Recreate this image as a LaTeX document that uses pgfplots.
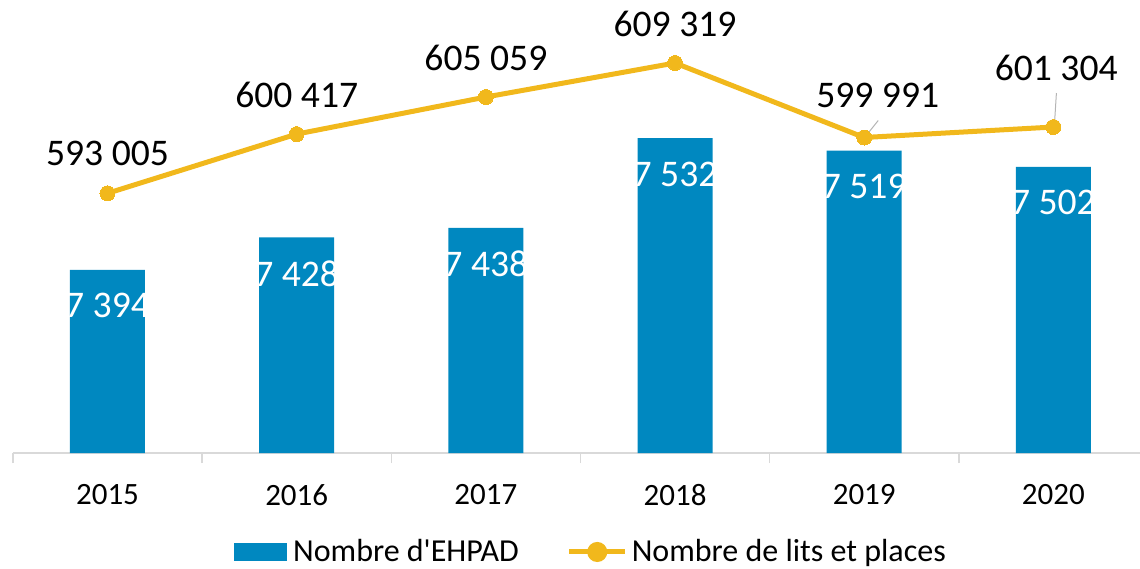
\documentclass[border=0pt]{standalone}
\usepackage{fontspec}
\setmainfont{Carlito}
\newfontfamily\plainfont{Carlito}
\usepackage{pgfplots}
\pgfplotsset{compat=1.18}
\definecolor{barblue}{RGB}{0,136,192}
\definecolor{gold}{RGB}{241,184,28}
\definecolor{axgray}{RGB}{217,217,217}
\definecolor{leadgray}{RGB}{180,180,180}
\newcommand{\lblfont}{\fontsize{18.8pt}{22pt}\selectfont}
\begin{document}
\begin{tikzpicture}
\useasboundingbox (0,0) rectangle (570pt,284pt);
\begin{axis}[
  at={(6.45pt,57.5pt)}, anchor=south west,
  width=567.55pt, height=226.5pt, scale only axis,
  xmin=-0.5, xmax=5.5, ymin=7202, ymax=7676.8,
  axis y line=none, axis x line*=bottom,
  x axis line style={axgray, line width=0.75pt, -},
  xtick={0,1,2,3,4,5}, xticklabels={2015,2016,2017,2018,2019,2020},
  major tick length=0pt,
  extra x ticks={-0.5,0.5,1.5,2.5,3.5,4.5,5.5}, extra x tick labels={},
  extra x tick style={major tick length=5pt, tick align=outside, tick style={axgray, line width=0.75pt}},
  xticklabel style={font=\fontsize{15.5pt}{18pt}\selectfont, anchor=center, yshift=-21pt},
  ybar, bar width=37.5pt,
  clip=false,
  nodes near coords, point meta=explicit symbolic,
  every node near coord/.append style={font=\lblfont, text=white, anchor=center, yshift=-18pt},
]
\addplot[fill=barblue, draw=none, bar shift=0pt] coordinates {
  (0,7394) [7 394]
  (1,7428) [7 428]
  (2,7438) [7 438]
  (3,7532) [7 532]
  (4,7519) [7 519]
  (5,7502) [7 502]
};
\end{axis}
\begin{axis}[
  at={(6.45pt,57.5pt)}, anchor=south west,
  width=567.55pt, height=226.5pt, scale only axis,
  xmin=-0.5, xmax=5.5, ymin=560490, ymax=617207,
  hide axis, clip=false,
  legend style={at={(0.5100,-0.2185)}, anchor=center, draw=none, fill=none,
    legend columns=2, font=\fontsize{16pt}{19pt}\selectfont,
    /tikz/every even column/.append style={column sep=22pt}},
  legend cell align=left,
]
\addlegendimage{legend image code/.code={\fill[barblue] (0pt,-4.25pt) rectangle (26pt,4.25pt); \path[draw=none,fill=none] (0pt,0pt) -- (27.5pt,0pt);}}
\addlegendentry{Nombre d{\plainfont '}EHPAD}
\addplot[gold, line width=2.5pt, mark=*, mark size=3.75pt, mark options={fill=gold, draw=gold, line width=0pt},
  legend image code/.code={\draw[gold,line width=2.5pt] (0pt,0pt)--(28pt,0pt); \fill[gold] (14pt,0pt) circle (3.75pt); \path[draw=none,fill=none] (0pt,0pt) -- (29pt,0pt);}]
  coordinates {(0,593005) (1,600417) (2,605059) (3,609319) (4,599991) (5,601304)};
\addlegendentry{Nombre de lits et places}
\addplot[draw=none, mark=none, forget plot, nodes near coords, point meta=explicit symbolic,
  every node near coord/.append style={font=\lblfont, text=black, anchor=center, yshift=19.75pt}]
  coordinates {(0,593005) [593 005] (1,600417) [600 417] (2,605059) [605 059] (3,609319) [609 319]};
\addplot[draw=none, mark=none, forget plot, nodes near coords, point meta=explicit symbolic,
  every node near coord/.append style={font=\lblfont, text=black, anchor=center, xshift=6.75pt, yshift=21pt}]
  coordinates {(4,599991) [599 991]};
\addplot[draw=none, mark=none, forget plot, nodes near coords, point meta=explicit symbolic,
  every node near coord/.append style={font=\lblfont, text=black, anchor=center, xshift=1.4pt, yshift=29.5pt}]
  coordinates {(5,601304) [601 304]};
\draw[leadgray, line width=0.5pt] (axis cs:4,599991) ++(1pt,1pt) -- ++(6pt,7.5pt);
\draw[leadgray, line width=0.5pt] (axis cs:5,601304) ++(0.5pt,1pt) -- ++(1pt,16pt);
\end{axis}
\end{tikzpicture}
\end{document}
